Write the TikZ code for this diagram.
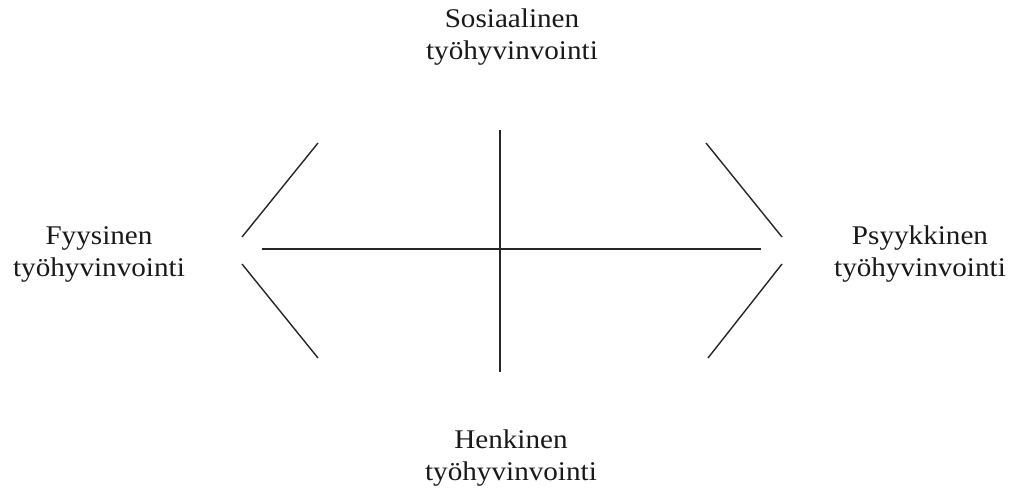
\documentclass[tikz,border=0pt]{standalone}
\usepackage{fontspec}
\setmainfont{Liberation Serif}
\newfontfamily\labelfont[FakeStretch=1.08]{Liberation Serif}
\begin{document}
\begin{tikzpicture}[x=1pt,y=-1pt,
  axis/.style={line width=1.4pt, draw=black!85},
  label/.style={align=center, font=\labelfont\fontsize{27}{32}\selectfont, inner sep=0pt, text=black!90}]
\useasboundingbox (0,0) rectangle (1015,492);
% dimension labels
\node[label] (top) at (512,37) {Sosiaalinen\\työhyvinvointi};
\node[label] (left) at (99,254) {Fyysinen\\työhyvinvointi};
\node[label] (right) at (920,254) {Psyykkinen\\työhyvinvointi};
\node[label] (bottom) at (511,458) {Henkinen\\työhyvinvointi};
% cross in the middle
\coordinate (hl) at (262,249);
\coordinate (hr) at (761,249);
\coordinate (vt) at (500,130);
\coordinate (vb) at (500,372);
\draw[axis] (hl) -- (hr);
\draw[axis] (vt) -- (vb);
% left bracket
\coordinate (lu1) at (318,143);
\coordinate (lu2) at (242,237);
\coordinate (ll1) at (242,264);
\coordinate (ll2) at (318,358);
\draw[axis] (lu1) -- (lu2);
\draw[axis] (ll1) -- (ll2);
% right bracket
\coordinate (ru1) at (706,143);
\coordinate (ru2) at (782,237);
\coordinate (rl1) at (782,264);
\coordinate (rl2) at (708,358);
\draw[axis] (ru1) -- (ru2);
\draw[axis] (rl1) -- (rl2);
\end{tikzpicture}
\end{document}
